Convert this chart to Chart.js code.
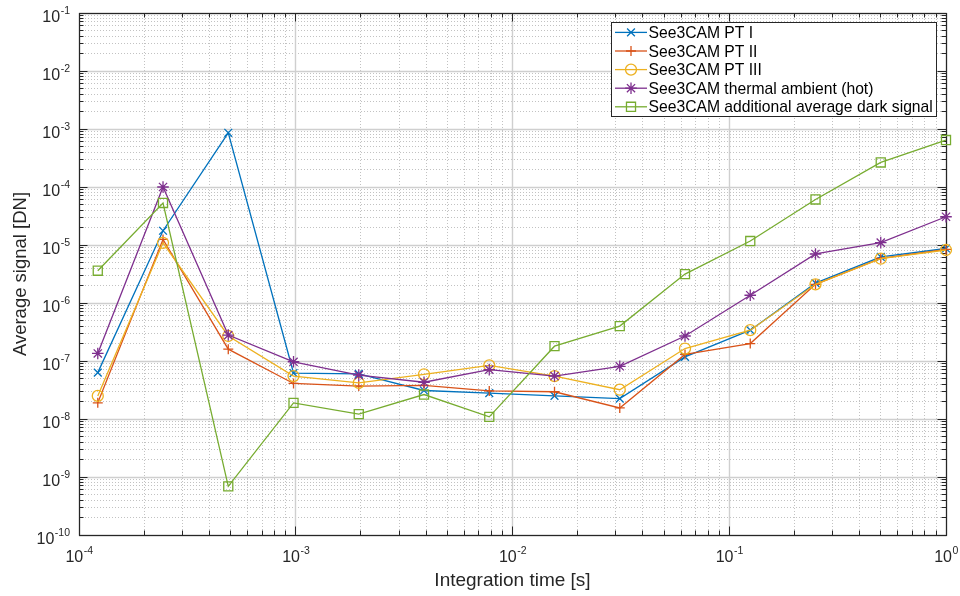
<!DOCTYPE html>
<html>
<head>
<meta charset="utf-8">
<script src="https://cdn.jsdelivr.net/npm/chart.js@4.4.1/dist/chart.umd.min.js"></script>
<style>
  html, body { margin: 0; padding: 0; background: #ffffff; }
  #wrap { width: 960px; height: 596px; }
</style>
</head>
<body>
<div id="wrap"><canvas id="chart" width="960" height="596"></canvas></div>
<script>
// Integration times [s]
const integrationTimes = [0.0001220703125, 0.000244140625, 0.00048828125, 0.0009765625,
  0.001953125, 0.00390625, 0.0078125, 0.015625, 0.03125, 0.0625, 0.125, 0.25, 0.5, 1];

// Average signal [DN] per measurement series
const seeCamPT1 = [6.3e-8, 1.76e-5, 8.6e-4, 6.2e-8, 6.0e-8, 3.1e-8, 2.8e-8, 2.5e-8, 2.25e-8,
  1.18e-7, 3.4e-7, 2.2e-6, 6.25e-6, 8.7e-6];
const seeCamPT2 = [1.9e-8, 1.25e-5, 1.6e-7, 4.1e-8, 3.7e-8, 3.8e-8, 3.05e-8, 2.95e-8, 1.55e-8,
  1.3e-7, 2.0e-7, 2.1e-6, 5.9e-6, 8.4e-6];
const seeCamPT3 = [2.5e-8, 1.09e-5, 2.7e-7, 5.5e-8, 4.2e-8, 5.9e-8, 8.4e-8, 5.5e-8, 3.2e-8,
  1.64e-7, 3.4e-7, 2.1e-6, 5.8e-6, 8.2e-6];
const seeCamThermal = [1.35e-7, 1.0e-4, 2.8e-7, 9.7e-8, 5.7e-8, 4.3e-8, 7.1e-8, 5.5e-8, 8.1e-8,
  2.7e-7, 1.36e-6, 7.0e-6, 1.1e-5, 3.07e-5];
const seeCamDark = [3.6e-6, 5.3e-5, 6.9e-10, 1.9e-8, 1.21e-8, 2.64e-8, 1.09e-8, 1.8e-7, 4.0e-7,
  3.15e-6, 1.17e-5, 6.1e-5, 2.65e-4, 6.45e-4];

const seriesNames = ['See3CAM PT I', 'See3CAM PT II', 'See3CAM PT III',
  'See3CAM thermal ambient (hot)', 'See3CAM additional average dark signal'];
const seriesValues = [seeCamPT1, seeCamPT2, seeCamPT3, seeCamThermal, seeCamDark];
const seriesColors = ['#0072BD', '#D95319', '#EDB120', '#7E2F8E', '#77AC30'];
const seriesMarkers = ['crossRot', 'cross', 'circle', 'star', 'rect'];
const markerRadii = [5.5, 5, 5.5, 5.8, 6.4];

// Decade tick exponents
const xTickExponents = [-4, -3, -2, -1, 0];
const yTickExponents = [-10, -9, -8, -7, -6, -5, -4, -3, -2, -1];

const xTitle = 'Integration time [s]';
const yTitle = 'Average signal [DN]';

const FONT = "'Liberation Sans', Arial, Helvetica, sans-serif";
const AXIS_COLOR = '#262626';

const datasets = seriesNames.map((name, i) => ({
  label: name,
  data: integrationTimes.map((t, k) => ({ x: t, y: seriesValues[i][k] })),
  borderColor: seriesColors[i],
  backgroundColor: seriesColors[i],
  borderWidth: 1.3,
  pointStyle: seriesMarkers[i],
  pointRadius: markerRadii[i],
  pointBorderWidth: 1.3,
  pointBorderColor: seriesColors[i],
  pointBackgroundColor: 'rgba(0,0,0,0)',
  tension: 0,
  clip: false,
  order: seriesNames.length - i
}));

function crisp(v) { return Math.round(v - 0.5) + 0.5; }

// Grid, box and inward tick marks
const axesFrame = {
  id: 'axesFrame',
  beforeDatasetsDraw(chart) {
    const { ctx, chartArea: a } = chart;
    const xs = chart.scales.x, ys = chart.scales.y;
    const xMinor = [], yMinor = [];
    xTickExponents.slice(0, -1).forEach(e => { for (let m = 2; m <= 9; m++) xMinor.push(m * Math.pow(10, e)); });
    yTickExponents.slice(0, -1).forEach(e => { for (let m = 2; m <= 9; m++) yMinor.push(m * Math.pow(10, e)); });
    const xMajor = xTickExponents.map(e => Math.pow(10, e));
    const yMajor = yTickExponents.map(e => Math.pow(10, e));

    ctx.save();
    // minor grid, dotted
    ctx.strokeStyle = '#c2c2c2';
    ctx.lineWidth = 1;
    ctx.setLineDash([1, 2]);
    ctx.beginPath();
    xMinor.forEach(v => { const p = crisp(xs.getPixelForValue(v)); ctx.moveTo(p, a.top); ctx.lineTo(p, a.bottom); });
    yMinor.forEach(v => { const p = crisp(ys.getPixelForValue(v)); ctx.moveTo(a.left, p); ctx.lineTo(a.right, p); });
    ctx.stroke();
    // major grid, solid
    ctx.setLineDash([]);
    ctx.strokeStyle = '#cfcfcf';
    ctx.lineWidth = 1.4;
    ctx.beginPath();
    xMajor.forEach(v => { const p = crisp(xs.getPixelForValue(v)); ctx.moveTo(p, a.top); ctx.lineTo(p, a.bottom); });
    yMajor.forEach(v => { const p = crisp(ys.getPixelForValue(v)); ctx.moveTo(a.left, p); ctx.lineTo(a.right, p); });
    ctx.stroke();

    // tick marks on all four sides
    ctx.strokeStyle = AXIS_COLOR;
    ctx.lineWidth = 1;
    const majLen = 8.5, minLen = 4.5;
    ctx.beginPath();
    const xTick = (v, len) => {
      const p = crisp(xs.getPixelForValue(v));
      ctx.moveTo(p, a.bottom); ctx.lineTo(p, a.bottom - len);
      ctx.moveTo(p, a.top); ctx.lineTo(p, a.top + len);
    };
    const yTick = (v, len) => {
      const p = crisp(ys.getPixelForValue(v));
      ctx.moveTo(a.left, p); ctx.lineTo(a.left + len, p);
      ctx.moveTo(a.right, p); ctx.lineTo(a.right - len, p);
    };
    xMajor.forEach(v => xTick(v, majLen));
    xMinor.forEach(v => xTick(v, minLen));
    yMajor.forEach(v => yTick(v, majLen));
    yMinor.forEach(v => yTick(v, minLen));
    ctx.stroke();

    // axes box
    ctx.lineWidth = 1.2;
    ctx.strokeRect(crisp(a.left), crisp(a.top), crisp(a.right) - crisp(a.left), crisp(a.bottom) - crisp(a.top));
    ctx.restore();
  },
  afterDraw(chart) {
    const { ctx, chartArea: a } = chart;
    const xs = chart.scales.x, ys = chart.scales.y;
    ctx.save();
    ctx.fillStyle = AXIS_COLOR;
    ctx.textBaseline = 'alphabetic';
    const baseFont = '16px ' + FONT;
    const expFont = '10.5px ' + FONT;

    // power-of-ten tick labels with raised exponent
    const labelWidth = (e) => {
      ctx.font = baseFont; const w1 = ctx.measureText('10').width;
      ctx.font = expFont; const w2 = ctx.measureText(String(e)).width;
      return [w1, w2];
    };
    xTickExponents.forEach(e => {
      const px = xs.getPixelForValue(Math.pow(10, e));
      const [w1, w2] = labelWidth(e);
      const left = px - (w1 + w2) / 2;
      ctx.textAlign = 'left';
      ctx.font = baseFont; ctx.fillText('10', left, 561.5);
      ctx.font = expFont; ctx.fillText(String(e), left + w1 + 0.5, 553.5);
    });
    yTickExponents.forEach(e => {
      const py = ys.getPixelForValue(Math.pow(10, e));
      const [w1, w2] = labelWidth(e);
      const right = 70;
      const left = right - w1 - w2 - 0.5;
      ctx.textAlign = 'left';
      ctx.font = baseFont; ctx.fillText('10', left, py + 9.4);
      ctx.font = expFont; ctx.fillText(String(e), left + w1 + 0.5, py + 0.8);
    });

    // axis titles
    ctx.font = '19px ' + FONT;
    ctx.textAlign = 'center';
    ctx.fillText(xTitle, (a.left + a.right) / 2, 585.5);
    ctx.save();
    ctx.translate(25.5, (a.top + a.bottom) / 2);
    ctx.rotate(-Math.PI / 2);
    ctx.font = '18.5px ' + FONT;
    ctx.fillText(yTitle, 0, 0);
    ctx.restore();

    // legend box
    const box = { left: 611, top: 22.5, right: 936, bottom: 116.5 };
    ctx.fillStyle = '#ffffff';
    ctx.fillRect(box.left, box.top, box.right - box.left, box.bottom - box.top);
    ctx.strokeStyle = AXIS_COLOR;
    ctx.lineWidth = 1;
    ctx.strokeRect(box.left + 0.5, box.top, box.right - box.left, box.bottom - box.top);
    chart.data.datasets.forEach((ds, i) => {
      const yRow = 32.4 + i * 18.6;
      ctx.strokeStyle = ds.borderColor;
      ctx.lineWidth = ds.borderWidth;
      ctx.beginPath();
      ctx.moveTo(615, yRow); ctx.lineTo(647, yRow);
      ctx.stroke();
      ctx.lineWidth = ds.pointBorderWidth;
      ctx.fillStyle = 'rgba(0,0,0,0)';
      Chart.helpers.drawPoint(ctx, { pointStyle: ds.pointStyle, radius: ds.pointRadius, rotation: 0, borderWidth: ds.pointBorderWidth }, 631, yRow);
      ctx.fillStyle = '#000000';
      ctx.font = '15.7px ' + FONT;
      ctx.textAlign = 'left';
      ctx.fillText(ds.label, 648.5, yRow + 5.6);
    });
    ctx.restore();
  }
};

new Chart(document.getElementById('chart'), {
  type: 'line',
  data: { datasets },
  options: {
    responsive: false,
    animation: false,
    devicePixelRatio: 1,
    layout: { padding: { left: 79, top: 13, right: 14, bottom: 61 } },
    plugins: { legend: { display: false }, tooltip: { enabled: false } },
    scales: {
      x: {
        type: 'logarithmic', min: 1e-4, max: 1,
        ticks: { display: false },
        grid: { display: false, drawTicks: false },
        border: { display: false },
        title: { display: false }
      },
      y: {
        type: 'logarithmic', min: 1e-10, max: 1e-1,
        ticks: { display: false },
        grid: { display: false, drawTicks: false },
        border: { display: false },
        title: { display: false }
      }
    }
  },
  plugins: [axesFrame]
});
</script>
</body>
</html>
